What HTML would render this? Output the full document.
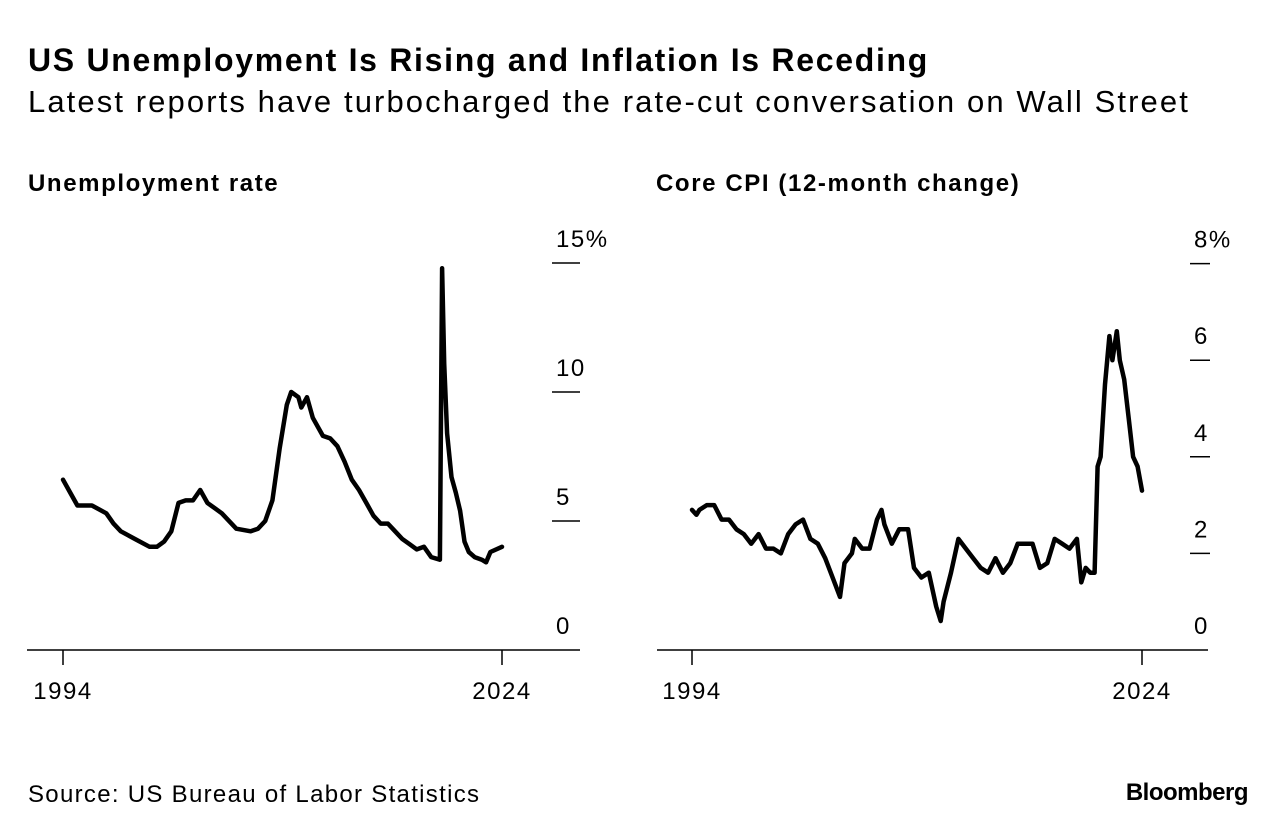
<!DOCTYPE html>
<html><head><meta charset="utf-8"><style>
body{margin:0;background:#fff;font-family:"Liberation Sans",sans-serif;color:#000}
#root{position:relative;width:1286px;height:836px;overflow:hidden}
.t{position:absolute;white-space:nowrap}
</style></head><body>
<div id="root">
<div class="t" style="left:28px;top:42px;font-size:32px;font-weight:bold;letter-spacing:1.7px">US Unemployment Is Rising and Inflation Is Receding</div>
<div class="t" style="left:28px;top:84px;font-size:31px;letter-spacing:2.1px">Latest reports have turbocharged the rate-cut conversation on Wall Street</div>
<div class="t" style="left:28px;top:170px;font-size:24px;font-weight:bold;letter-spacing:1.6px">Unemployment rate</div>
<div class="t" style="left:656px;top:170px;font-size:24px;font-weight:bold;letter-spacing:1.6px">Core CPI (12-month change)</div>
<div class="t" style="left:28px;top:781px;font-size:24px;letter-spacing:1.3px">Source: US Bureau of Labor Statistics</div>
<div class="t" style="right:38px;top:779px;font-size:24px;font-weight:bold;letter-spacing:-0.5px">Bloomberg</div>
<svg id="svg" width="1286" height="836" style="position:absolute;left:0;top:0"></svg>
</div>
<script>
const unempDates=[1994.0,1994.5,1995,1996,1997,1997.5,1998,1999,2000,2000.5,2001,2001.5,2002,2002.5,2003,2003.5,2004,2004.5,2005,2006,2007,2007.5,2008,2008.5,2009,2009.5,2009.8,2010.3,2010.5,2010.9,2011.3,2012,2012.5,2013,2013.5,2014,2014.5,2015,2015.5,2016,2016.5,2017,2017.5,2018,2018.5,2019,2019.5,2020.1,2020.25,2020.4,2020.6,2020.9,2021.2,2021.5,2021.8,2022.1,2022.5,2023,2023.3,2023.6,2024.4];
const unempValues=[6.6,6.1,5.6,5.6,5.3,4.9,4.6,4.3,4.0,4.0,4.2,4.6,5.7,5.8,5.8,6.2,5.7,5.5,5.3,4.7,4.6,4.7,5.0,5.8,7.8,9.5,10.0,9.8,9.4,9.8,9.0,8.3,8.2,7.9,7.3,6.6,6.2,5.7,5.2,4.9,4.9,4.6,4.3,4.1,3.9,4.0,3.6,3.5,14.8,11.1,8.4,6.7,6.1,5.4,4.2,3.8,3.6,3.5,3.4,3.8,4.0];
const unempTicks=[0,5,10,15];
const cpiDates=[1994,1994.3,1994.5,1995,1995.5,1996,1996.5,1997,1997.5,1998,1998.5,1999,1999.5,2000,2000.5,2001,2001.5,2002,2002.5,2003,2003.5,2004,2004.3,2004.8,2005,2005.5,2006,2006.5,2006.8,2007,2007.5,2008,2008.6,2009,2009.5,2010,2010.5,2010.8,2011,2011.5,2012,2012.5,2013,2013.5,2014,2014.5,2015,2015.5,2016,2016.5,2017,2017.5,2018,2018.5,2019,2019.5,2020,2020.3,2020.6,2020.9,2021.2,2021.4,2021.6,2021.9,2022.2,2022.4,2022.7,2022.9,2023.2,2023.5,2023.8,2024.1,2024.4];
const cpiValues=[2.9,2.8,2.9,3.0,3.0,2.7,2.7,2.5,2.4,2.2,2.4,2.1,2.1,2.0,2.4,2.6,2.7,2.3,2.2,1.9,1.5,1.1,1.8,2.0,2.3,2.1,2.1,2.7,2.9,2.6,2.2,2.5,2.5,1.7,1.5,1.6,0.9,0.6,1.0,1.6,2.3,2.1,1.9,1.7,1.6,1.9,1.6,1.8,2.2,2.2,2.2,1.7,1.8,2.3,2.2,2.1,2.3,1.4,1.7,1.6,1.6,3.8,4.0,5.5,6.5,6.0,6.6,6.0,5.6,4.8,4.0,3.8,3.3];
const cpiTicks=[0,2,4,6,8];
const xTickLabels=["1994","2024"];
const xTickYears=[1994,2024];

const svg=document.getElementById('svg');
const NS='http://www.w3.org/2000/svg';
function mk(tag,attrs){const e=document.createElementNS(NS,tag);for(const k in attrs)e.setAttribute(k,attrs[k]);svg.appendChild(e);return e;}

function drawChart(cfg){
  const sx=d=>cfg.x0+(d-1994)/(2024.4-1994)*(cfg.x1-cfg.x0);
  const sy=v=>650-v*cfg.ppu;
  const base=mk('line',{x1:cfg.bl0,x2:cfg.bl1,y1:650,y2:650,stroke:'#000','stroke-width':1.5});
  
  
  xTickYears.forEach((y,i)=>{
    const xx=i==0?cfg.x0:cfg.x1;
    const tk=mk('line',{x1:xx,x2:xx,y1:650,y2:665,stroke:'#000','stroke-width':1.5});
    
    
    const t=mk('text',{x:xx,y:699,'text-anchor':'middle','font-size':24,'letter-spacing':1.5,'font-family':'Liberation Sans, sans-serif'});
    t.textContent=xTickLabels[i];
    
    
  });
  cfg.ticks.forEach((v,i)=>{
    const y=sy(v);
    if(v>0){
      const g=mk('line',{x1:cfg.tk0,x2:cfg.tk1,y1:y,y2:y,stroke:'#000','stroke-width':1.5});
      
      
    }
    const t=mk('text',{x:cfg.lx,y:y-16,'font-size':24,'letter-spacing':1.5,'font-family':'Liberation Sans, sans-serif'});
    t.textContent=v+(i==cfg.ticks.length-1?'%':'');
    
    
  });
  const pts=cfg.dates.map((d,i)=>sx(d).toFixed(1)+','+sy(cfg.vals[i]).toFixed(1)).join(' ');
  const pl=mk('polyline',{points:pts,fill:'none',stroke:'#000','stroke-width':4.5,'stroke-linejoin':'round','stroke-linecap':'round'});
  
  
}
drawChart({id:'unemployment',dates:unempDates,vals:unempValues,ticks:unempTicks,x0:63,x1:502,ppu:25.8,bl0:27,bl1:580,tk0:552,tk1:580,lx:556});
drawChart({id:'core-cpi',dates:cpiDates,vals:cpiValues,ticks:cpiTicks,x0:692,x1:1142,ppu:48.3,bl0:657,bl1:1208,tk0:1190,tk1:1210,lx:1194});
</script>
</body></html>
